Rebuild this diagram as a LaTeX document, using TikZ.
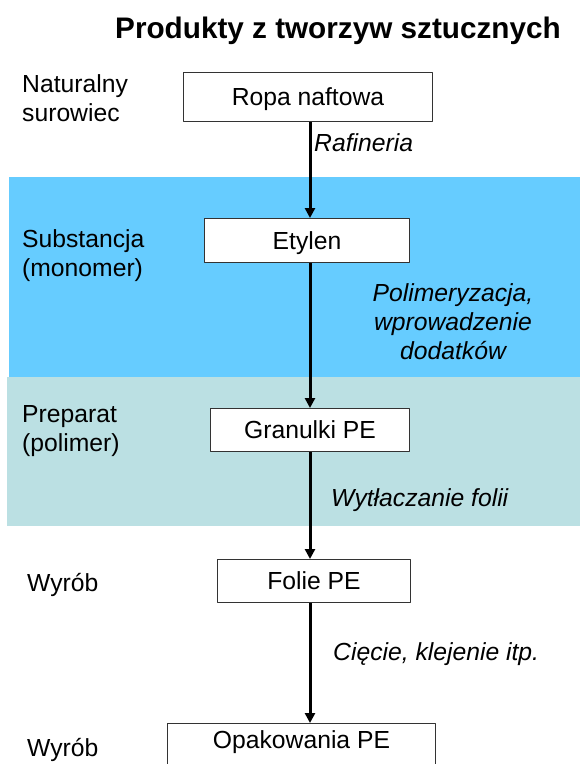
\documentclass[tikz,border=0pt]{standalone}
\usepackage{fontspec}
\setmainfont{Liberation Sans}
\usetikzlibrary{arrows.meta}
\begin{document}
\begin{tikzpicture}[x=1pt, y=-1pt, >={Triangle[length=10pt,width=10pt]}, line join=round,
  font=\fontsize{24.7}{29}\selectfont,
  hop/.style={draw=black!80, line width=1pt, fill=white, inner sep=0pt, anchor=north west,
    text height=17.5pt, text depth=0pt},
  nhan/.style={align=left, anchor=base west, inner sep=0pt},
  buoc/.style={font=\fontsize{24.7}{29}\selectfont\itshape, inner sep=0pt},
  muiten/.style={->, line width=3pt}]
\useasboundingbox (0,0) rectangle (580,764);
\clip (0,0) rectangle (580,764); %vùng hình
% Vẽ 2 dải màu nền
\fill[fill={rgb,255:red,102;green,204;blue,255}] (9,177) rectangle (580,377);
\fill[fill={rgb,255:red,187;green,224;blue,227}] (7,377) rectangle (580,526);
% Tiêu đề
\node[anchor=base west, inner sep=0pt, font=\fontsize{29.7}{34}\selectfont\bfseries]
  (tieude) at (115,38) {Produkty z tworzyw sztucznych};
% Các ô
\node[hop, minimum width=249pt, minimum height=49pt] (ropa) at (183,72) {Ropa naftowa};
\node[hop, minimum width=205pt, minimum height=44pt] (etylen) at (204,218) {Etylen};
\node[hop, minimum width=199pt, minimum height=43pt] (granulki) at (210,408) {Granulki PE};
\node[hop, minimum width=193pt, minimum height=43pt] (folie) at (217,559) {Folie PE};
\node[hop, minimum width=268pt, inner ysep=7pt, text depth=40pt] (opak) at (167,723) {Opakowania PE};
% Nhãn bên trái (tọa độ = dòng cuối)
\node[nhan] (natural) at (22,121) {Naturalny\\surowiec};
\node[nhan] (substancja) at (22,276) {Substancja\\(monomer)};
\node[nhan] (preparat) at (22,451) {Preparat\\(polimer)};
\node[nhan] (wyrob1) at (27,591) {Wyrób};
\node[nhan] (wyrob2) at (27,756) {Wyrób};
% Mũi tên
\coordinate (truc) at (310,0);
\draw[muiten] (ropa.south -| truc) -- (etylen.north -| truc);
\draw[muiten] (etylen.south -| truc) -- (granulki.north -| truc);
\draw[muiten] (granulki.south -| truc) -- (folie.north -| truc);
\draw[muiten] (folie.south -| truc) -- (opak.north -| truc);
% Tên các bước
\node[buoc, anchor=base west] (rafineria) at (314,151) {Rafineria};
\node[buoc, align=center, anchor=base] (polimer) at (453,359) {Polimeryzacja,\\wprowadzenie\\dodatków};
\node[buoc, anchor=base west] (wytlacz) at (331,506) {Wytłaczanie folii};
\node[buoc, anchor=base west] (ciecie) at (333,660) {Cięcie, klejenie itp.};
\end{tikzpicture}
\end{document}
